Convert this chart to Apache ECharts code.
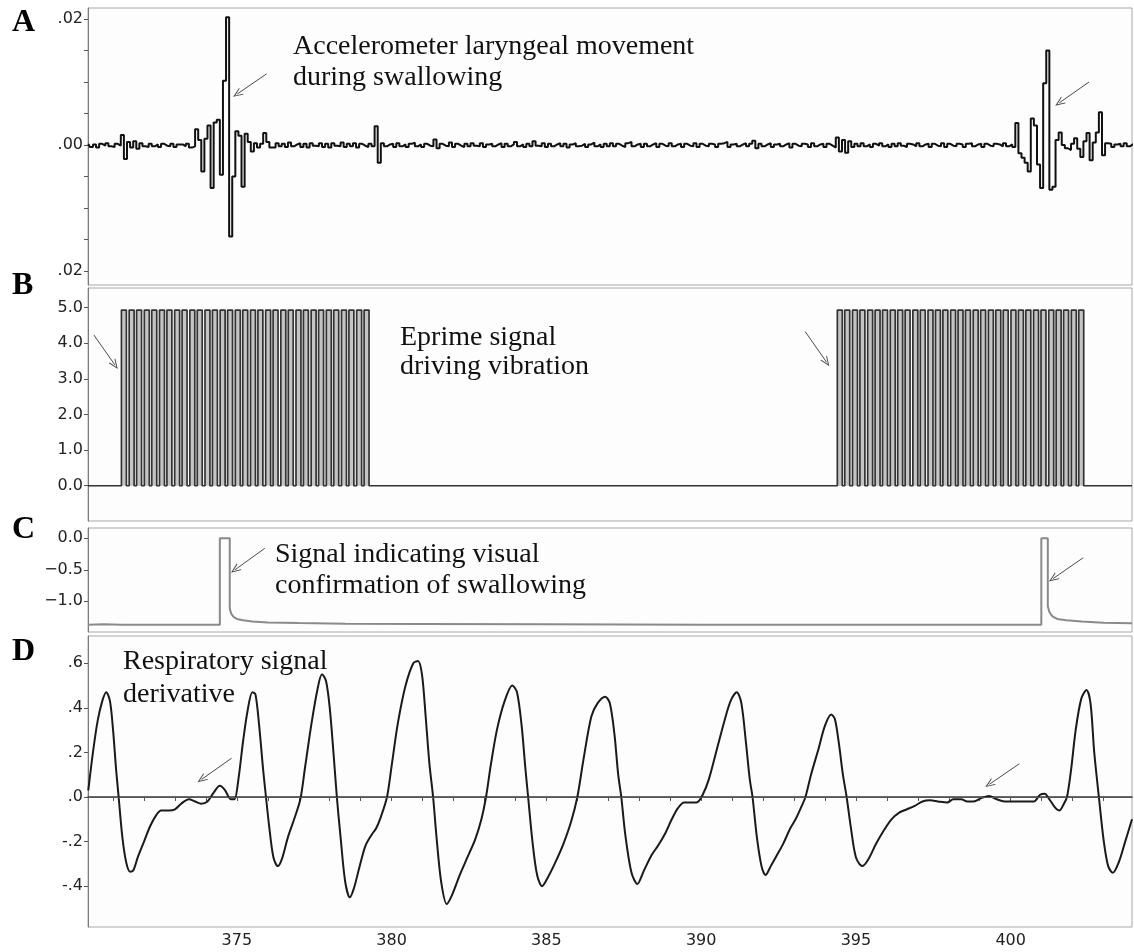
<!DOCTYPE html>
<html>
<head>
<meta charset="utf-8">
<script src="https://cdn.jsdelivr.net/npm/echarts@6/dist/echarts.min.js"></script>
<style>
  html, body { margin: 0; padding: 0; background: #ffffff; }
  #chart { width: 1134px; height: 952px; }
</style>
</head>
<body>
<div id="chart"></div>
<script>
// ---- time window (s) shared by all four traces ----
const timeMin = 370.19;
const timeMax = 403.92;
const timeTickValues = [371,372,373,374,375,376,377,378,379,380,381,382,383,384,385,386,387,388,389,390,391,392,393,394,395,396,397,398,399,400,401,402,403];
const timeLabelValues = [375, 380, 385, 390, 395, 400];

// ---- A: accelerometer, sampled every 0.1 s from 370.2 s, in units of 1e-4 ----
const accelStart = 370.2;
const accelStep = 0.1;
const accelE4 = [
  2,-3,1,-4,2,-1,3,-2,-3,2,
  -1,16,-22,5,-4,6,-6,3,-2,-3,
  2,-2,1,-3,2,-1,-2,2,-3,1,
  1,-2,2,-4,-2,25,8,-42,10,31,
  -68,36,40,-47,102,203,-145,-50,22,15,
  -66,18,5,-10,3,-4,2,19,5,-4,
  -4,3,-2,2,-3,4,-2,1,3,-3,
  2,-4,3,-1,-2,3,-3,2,-4,3,
  -1,-2,4,-3,2,-2,3,-4,2,-1,
  -3,2,-2,30,-28,3,-2,1,2,-3,
  3,-2,1,-3,2,4,-2,1,-3,2,
  -1,-2,9,-5,2,-1,-2,4,-3,2,
  -1,-3,2,-2,3,-1,-2,3,-3,1,
  2,-2,1,3,-3,2,-2,1,5,-2,
  1,-3,2,-2,6,-1,-2,3,-3,2,
  -2,1,3,-2,2,-4,1,3,-2,-1,
  2,-3,1,4,-2,1,-3,2,-2,3,
  -2,2,-1,-3,3,5,-2,1,2,-3,
  2,-2,1,3,-3,2,-1,-2,3,-2,
  1,2,-3,2,-1,-2,3,-3,2,-1,
  -2,2,1,-3,2,3,5,-3,1,2,
  -2,1,3,-2,2,7,-5,2,-2,1,
  3,-3,1,2,-2,1,3,-4,2,-1,
  -2,2,1,-3,3,-2,1,2,-3,2,
  -1,-4,12,-10,8,-12,6,-3,2,-2,
  3,-2,1,-3,2,-1,3,-2,1,-3,
  2,-2,3,-1,-3,2,1,-2,3,-2,
  1,2,-3,2,-1,-2,3,-3,2,-1,
  -2,2,1,-3,2,3,-2,1,2,-3,
  2,-1,-2,2,1,-2,3,-2,1,-3,
  35,-13,-20,-28,-42,42,31,-31,-68,98,
  150,-71,-66,8,20,0,-5,-8,2,11,
  -6,-19,6,19,-24,4,20,52,-16,3,
  2,-3,1,2,-2,3,-2,1,2
];
const accelTicks = [-0.02,-0.015,-0.01,-0.005,0,0.005,0.01,0.015,0.02];
const accelLabels = [-0.02, 0, 0.02];

// ---- B: Eprime drive pulses (rising edges, s) ----
const pulseLevel = 4.93;
const pulseOn = 0.16;
const burst1Rises = [371.27,371.52,371.76,372.01,372.25,372.50,372.74,372.99,373.23,373.48,373.72,373.97,374.21,374.46,374.70,374.95,375.19,375.44,375.68,375.93,376.17,376.42,376.66,376.91,377.15,377.40,377.64,377.89,378.13,378.38,378.62,378.87,379.11];
const burst2Rises = [394.40,394.64,394.89,395.13,395.38,395.62,395.86,396.11,396.35,396.59,396.84,397.08,397.33,397.57,397.81,398.06,398.30,398.54,398.79,399.03,399.28,399.52,399.76,400.01,400.25,400.49,400.74,400.98,401.23,401.47,401.71,401.96,402.20];
const pulseTicks = [0,1,2,3,4,5];

// ---- C: visual confirmation marker [time, level] ----
const cueTimes  = [370.19,370.7,371.3,374.45,374.45,374.77,374.77,374.82,374.9,375.0,375.2,375.5,376.0,377.0,378.5,381.0,385.0,390.0,400.99,400.99,401.2,401.2,401.25,401.35,401.5,401.8,402.3,403.0,403.92];
const cueLevels = [-1.37,-1.365,-1.37,-1.37,0.0,0.0,-1.12,-1.2,-1.25,-1.28,-1.30,-1.32,-1.335,-1.345,-1.355,-1.36,-1.365,-1.37,-1.37,0.0,0.0,-1.08,-1.17,-1.24,-1.28,-1.30,-1.32,-1.34,-1.35];
const cueTicks = [-1.5,-1.0,-0.5,0.0];
const cueLabels = [-1.0,-0.5,0.0];

// ---- D: respiratory signal derivative [time, value] ----
const respTimes = [
  370.20,370.35,370.50,370.65,370.78,370.90,371.00,371.10,371.18,371.30,371.42,371.55,371.65,371.80,372.00,372.20,372.40,372.55,372.80,373.00,
  373.20,373.45,373.65,373.85,374.05,374.25,374.45,374.62,374.80,374.92,375.05,375.20,375.35,375.50,375.60,375.72,375.85,375.94,376.05,376.18,
  376.32,376.45,376.65,376.85,377.05,377.20,377.40,377.60,377.75,377.88,378.00,378.12,378.23,378.35,378.50,378.65,378.78,378.95,379.15,379.35,
  379.50,379.65,379.85,380.00,380.20,380.45,380.70,380.85,380.98,381.10,381.22,381.34,381.45,381.60,381.78,381.95,382.20,382.45,382.70,382.90,
  383.05,383.20,383.40,383.65,383.90,384.05,384.20,384.32,384.41,384.55,384.70,384.86,385.05,385.30,385.55,385.80,386.00,386.20,386.45,386.65,
  386.90,387.05,387.20,387.32,387.42,387.55,387.75,387.94,388.15,388.40,388.60,388.85,389.05,389.25,389.45,389.85,390.05,390.25,390.50,390.75,
  390.95,391.15,391.30,391.45,391.57,391.66,391.80,391.95,392.08,392.25,392.45,392.65,392.88,393.05,393.25,393.37,393.55,393.80,394.00,394.20,
  394.32,394.45,394.58,394.70,394.85,395.00,395.20,395.40,395.65,395.90,396.15,396.40,396.65,396.90,397.15,397.40,397.65,397.95,398.15,398.40,
  398.60,398.80,399.05,399.30,399.55,399.80,400.10,400.40,400.75,400.95,401.10,401.25,401.45,401.58,401.72,401.82,401.95,402.10,402.28,402.45,
  402.58,402.70,402.85,403.00,403.15,403.30,403.50,403.70,403.92
];
const respValues = [
  0.03,0.20,0.34,0.43,0.47,0.43,0.30,0.12,0.00,-0.18,-0.29,-0.335,-0.33,-0.27,-0.20,-0.13,-0.08,-0.06,-0.06,-0.055,
  -0.03,-0.01,-0.02,-0.03,-0.02,0.02,0.05,0.03,-0.01,-0.01,0.08,0.25,0.39,0.47,0.46,0.32,0.12,0.00,-0.14,-0.27,
  -0.31,-0.28,-0.18,-0.10,-0.01,0.13,0.32,0.48,0.55,0.52,0.40,0.20,0.00,-0.18,-0.38,-0.45,-0.41,-0.32,-0.22,-0.17,
  -0.14,-0.09,0.00,0.14,0.33,0.50,0.60,0.61,0.55,0.36,0.15,0.00,-0.18,-0.38,-0.48,-0.44,-0.35,-0.27,-0.19,-0.10,
  0.00,0.14,0.30,0.43,0.50,0.47,0.32,0.13,0.00,-0.20,-0.35,-0.40,-0.36,-0.29,-0.21,-0.11,0.00,0.17,0.36,0.42,
  0.45,0.42,0.28,0.10,0.00,-0.17,-0.34,-0.39,-0.33,-0.26,-0.22,-0.16,-0.10,-0.05,-0.025,-0.025,0.01,0.08,0.21,0.34,
  0.43,0.47,0.42,0.24,0.08,0.00,-0.18,-0.31,-0.35,-0.31,-0.26,-0.21,-0.14,-0.10,-0.04,0.00,0.10,0.22,0.32,0.37,
  0.35,0.24,0.10,0.00,-0.15,-0.27,-0.31,-0.28,-0.21,-0.15,-0.10,-0.07,-0.055,-0.04,-0.02,-0.015,-0.02,-0.025,-0.01,-0.01,
  -0.02,-0.02,-0.005,0.005,-0.01,-0.02,-0.02,-0.02,-0.02,0.01,0.015,-0.01,-0.05,-0.06,-0.03,0.00,0.12,0.30,0.44,0.48,
  0.42,0.20,0.00,-0.19,-0.31,-0.34,-0.29,-0.20,-0.10
];
const respTicks = [-0.4,-0.2,0,0.2,0.4,0.6];

// ---- annotation arrows: [fromTime, fromValue, toTime, toValue] ----
const accelArrows = [[375.96, 0.0113, 375.01, 0.0081], [402.53, 0.0100, 401.57, 0.0067]];
const pulseArrows = [[370.38, 4.23, 371.06, 3.39], [393.36, 4.33, 394.05, 3.47]];
const cueArrows   = [[375.90, -0.16, 374.94, -0.50], [402.34, -0.31, 401.37, -0.64]];
const respArrows  = [[374.83, 0.174, 373.86, 0.079], [400.28, 0.149, 399.31, 0.057]];

// ---- build series data ----
const accelData = accelE4.map((v, i) => [accelStart + i * accelStep, v * 1e-4]);

function pulseTrain(rises) {
  const pts = [];
  rises.forEach(r => {
    pts.push([r, 0], [r, pulseLevel], [r + pulseOn, pulseLevel], [r + pulseOn, 0]);
  });
  return pts;
}
const pulseData = [[timeMin, 0]]
  .concat(pulseTrain(burst1Rises), pulseTrain(burst2Rises), [[timeMax, 0]]);

const cueData = cueTimes.map((t, i) => [t, cueLevels[i]]);
const respData = respTimes.map((t, i) => [t, respValues[i]]);

// ---- shared styling ----
const LEFT = 88;
const PLOT_W = 1044;
const tickFont = { fontFamily: 'DejaVu Sans', fontSize: 16, color: '#222' };
const chevron = 'path://M5,0 L10,10 L8.7,10 L5,2.6 L1.3,10 L0,10 Z';

function arrowLines(list) {
  return {
    silent: true,
    animation: false,
    symbol: ['none', chevron],
    symbolSize: [8, 10],
    label: { show: false },
    lineStyle: { color: '#4a4a4a', width: 1, type: 'solid' },
    data: list.map(a => [{ coord: [a[0], a[1]] }, { coord: [a[2], a[3]] }])
  };
}

function gridBox(top, height) {
  return {
    left: LEFT, top: top, width: PLOT_W, height: height,
    show: true, borderColor: '#a8a8a8', borderWidth: 1, backgroundColor: '#fdfdfd'
  };
}

function hiddenTimeAxis(gi) {
  return { type: 'value', gridIndex: gi, min: timeMin, max: timeMax, show: false };
}

function valueAxis(gi, min, max, ticks, labels, fmt) {
  return {
    type: 'value', gridIndex: gi, min: min, max: max,
    axisLine: { show: true, lineStyle: { color: '#7a7a7a', width: 1 } },
    axisTick: { show: true, length: 4, customValues: ticks, lineStyle: { color: '#555' } },
    axisLabel: Object.assign({ show: true, margin: 5, customValues: labels, formatter: fmt }, tickFont),
    splitLine: { show: false }
  };
}

const serifText = '28px "Liberation Serif"';
function note(left, top, text, lineHeight) {
  return {
    type: 'text', left: left, top: top, silent: true, z: 100,
    style: { text: text, font: serifText, fill: '#111', lineHeight: lineHeight }
  };
}
function panelLetter(top, letter) {
  return {
    type: 'text', left: 12, top: top, silent: true, z: 100,
    style: { text: letter, font: 'bold 32px "Liberation Serif"', fill: '#000', lineHeight: 32 }
  };
}

const option = {
  animation: false,
  backgroundColor: '#ffffff',
  grid: [
    gridBox(8, 277),
    gridBox(288, 233),
    gridBox(528, 104),
    gridBox(636, 291)
  ],
  xAxis: [
    hiddenTimeAxis(0),
    hiddenTimeAxis(1),
    hiddenTimeAxis(2),
    {
      type: 'value', gridIndex: 3, min: timeMin, max: timeMax,
      axisLine: { show: true, lineStyle: { color: '#3a3a3a', width: 1.5 } },
      axisTick: { show: true, length: 4, customValues: timeTickValues, lineStyle: { color: '#555' } },
      axisLabel: Object.assign({ show: true, margin: 6, customValues: timeLabelValues,
        formatter: v => String(Math.round(v)) }, tickFont),
      splitLine: { show: false }
    }
  ],
  yAxis: [
    valueAxis(0, -0.0222, 0.02175, accelTicks, accelLabels,
      v => Math.abs(v).toFixed(2).slice(1)),
    valueAxis(1, -0.99, 5.55, pulseTicks, pulseTicks, v => v.toFixed(1)),
    valueAxis(2, -1.487, 0.163, cueTicks, cueLabels,
      v => (Math.abs(v) < 1e-9 ? '0.0' : '\u2212' + Math.abs(v).toFixed(1))),
    valueAxis(3, -0.583, 0.722, respTicks, respTicks,
      v => v.toFixed(1).replace('0.', '.'))
  ],
  series: [
    {
      name: 'Accelerometer', type: 'line', xAxisIndex: 0, yAxisIndex: 0,
      data: accelData, step: 'middle', showSymbol: false, silent: true,
      lineStyle: { color: '#111', width: 2 },
      markLine: arrowLines(accelArrows)
    },
    {
      name: 'Eprime', type: 'line', xAxisIndex: 1, yAxisIndex: 1,
      data: pulseData, showSymbol: false, silent: true,
      lineStyle: { color: '#333', width: 1.7 },
      areaStyle: { color: '#c4c4c4', opacity: 1, origin: 0 },
      markLine: arrowLines(pulseArrows)
    },
    {
      name: 'Visual confirmation', type: 'line', xAxisIndex: 2, yAxisIndex: 2,
      data: cueData, showSymbol: false, silent: true,
      lineStyle: { color: '#8a8a8a', width: 2 },
      markLine: arrowLines(cueArrows)
    },
    {
      name: 'Respiratory derivative', type: 'line', xAxisIndex: 3, yAxisIndex: 3,
      data: respData, showSymbol: false, silent: true, smooth: 0.3,
      lineStyle: { color: '#1a1a1a', width: 2 },
      markLine: {
        silent: true, animation: false,
        symbol: ['none', chevron], symbolSize: [8, 10],
        label: { show: false },
        lineStyle: { color: '#4a4a4a', width: 1, type: 'solid' },
        data: [
          [{ coord: [timeMin, 0], symbol: 'none' }, { coord: [timeMax, 0], symbol: 'none', lineStyle: { color: '#555' } }]
        ].concat(respArrows.map(a => [{ coord: [a[0], a[1]] }, { coord: [a[2], a[3]] }]))
      }
    }
  ],
  graphic: [
    panelLetter(7, 'A'),
    panelLetter(270, 'B'),
    panelLetter(514, 'C'),
    panelLetter(636, 'D'),
    note(293, 31, 'Accelerometer laryngeal movement\nduring swallowing', 31),
    note(400, 323, 'Eprime signal\ndriving vibration', 29),
    note(275, 539, 'Signal indicating visual\nconfirmation of swallowing', 31),
    note(123, 645, 'Respiratory signal\nderivative', 33)
  ]
};

const chart = echarts.init(document.getElementById('chart'), null, { renderer: 'canvas' });
chart.setOption(option);
</script>
</body>
</html>
